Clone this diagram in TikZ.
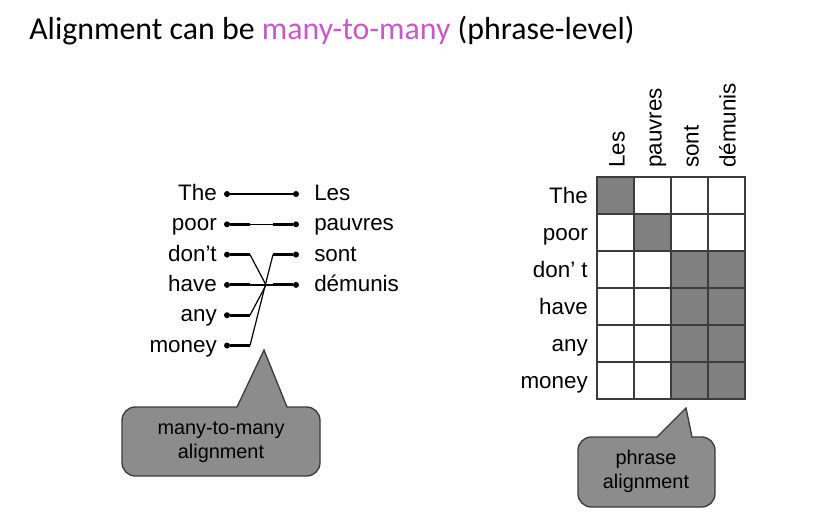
\documentclass[tikz,border=0pt]{standalone}
\usepackage{fontspec}
\setmainfont{Liberation Sans}
\newfontfamily\titlefont{Carlito}
\definecolor{pinkish}{RGB}{200,90,200}
\definecolor{boxgray}{RGB}{140,140,140}
\definecolor{cellgray}{RGB}{128,128,128}
\definecolor{edgegray}{RGB}{60,60,60}

\begin{document}
\begin{tikzpicture}[x=0.75pt,y=-0.75pt]
\tikzstyle{word}=[inner sep=0pt,font=\fontsize{16.8}{20}\selectfont]
\tikzstyle{dot}=[circle,inner sep=0pt,minimum size=4.5pt,fill=black]
\tikzstyle{heavy}=[line width=2.2pt]
\tikzstyle{light}=[line width=0.9pt]
\tikzstyle{cell}=[rectangle,draw=edgegray,line width=1.5pt,minimum size=27.75pt,inner sep=0pt]
\tikzstyle{callout}=[draw=edgegray,fill=boxgray,line width=1pt]
\tikzstyle{note}=[align=center,inner sep=0pt,font=\fontsize{14.9}{18}\selectfont]

\useasboundingbox (0,0) rectangle (839,529);

	\node[anchor=base west,inner sep=0pt,font=\titlefont\fontsize{23.9}{28}\selectfont] (title) at (29,39) {Alignment can be \textcolor{pinkish}{many-to-many} (phrase-level)};

	% english side
	\foreach \w [count=\i] in {The,poor,don’t,have,any,money} {
		\node[dot] (e_\i) at (227,{163.7+30.3*\i}) {};
		\node[word,anchor=base east] (ew_\i) at (217,{170.2+30.3*\i}) {\w};
		\coordinate (ea_\i) at (250,{163.7+30.3*\i});
	}
	% french side
	\foreach \w [count=\i] in {Les,pauvres,sont,démunis} {
		\node[dot] (f_\i) at (296,{163.7+30.3*\i}) {};
		\node[word,anchor=base west] (fw_\i) at (314,{170.2+30.3*\i}) {\w};
		\coordinate (fa_\i) at (273,{163.7+30.3*\i});
	}
	\coordinate (hub) at (266,285);

	\foreach \i in {1,...,6} \draw[heavy] (e_\i) -- (ea_\i);
	\foreach \i in {1,...,4} \draw[heavy] (fa_\i) -- (f_\i);

	\path[light]
		(ea_1) edge [] (fa_1)
		(ea_2) edge [] (fa_2)
		(ea_3) edge [] (hub)
		(ea_5) edge [] (hub)
		(ea_4) edge [] (fa_4)
		(ea_6) edge [] (fa_3);

	% callout under the links
	\draw[callout] (237,407) -- (264,350) -- (287,407) [rounded corners=10pt] -- (320,407) -- (320,476) -- (122,476) -- (122,407) [sharp corners] -- cycle;
	\node[note] (n_1) at (221,442) {many-to-many\\alignment};

	% alignment matrix
	\foreach \row [count=\r] in {{cellgray,white,white,white},{white,cellgray,white,white},{white,white,cellgray,cellgray},{white,white,cellgray,cellgray},{white,white,cellgray,cellgray},{white,white,cellgray,cellgray}}
		\foreach \col [count=\c] in \row
			\node[cell,fill=\col] (m_\r_\c) at ({578.5+37*\c},{158.5+37*\r}) {};

	\foreach \w [count=\r] in {The,poor,don’ t,have,any,money}
		\node[word,anchor=base east] (rw_\r) at (588,{166.5+37*\r}) {\w};
	\foreach \w [count=\c] in {Les,pauvres,sont,démunis}
		\node[word,rotate=90,anchor=base west] (cw_\c) at ({587.5+37*\c},168) {\w};

	% callout under the matrix
	\draw[callout] (657,437) -- (686,408) -- (692,437) [rounded corners=10pt] -- (715,437) -- (715,507) -- (578,507) -- (578,437) [sharp corners] -- cycle;
	\node[note] (n_2) at (646,471) {phrase\\alignment};

\end{tikzpicture}
\end{document}
